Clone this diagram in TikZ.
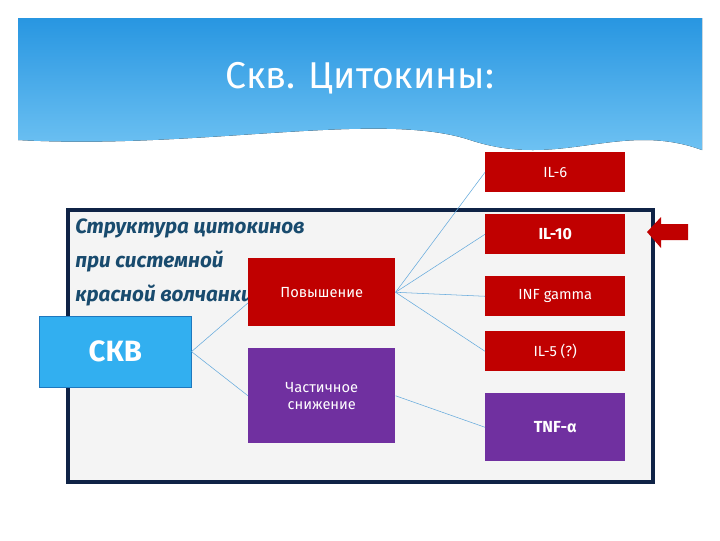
\documentclass[tikz,border=0pt]{standalone}
\usepackage{fontspec}
\setmainfont{Fira Sans}
\definecolor{cred}{RGB}{192,0,0}
\definecolor{cpurp}{RGB}{112,48,160}
\definecolor{cskv}{RGB}{50,175,240}
\definecolor{cskvb}{RGB}{30,120,190}
\definecolor{cline}{RGB}{100,170,220}
\definecolor{cframe}{RGB}{15,35,70}
\definecolor{cfill}{RGB}{244,244,244}
\definecolor{ctext}{RGB}{25,75,110}
\definecolor{htop}{RGB}{40,150,225}
\definecolor{hbot}{RGB}{120,200,245}
\begin{document}
\begin{tikzpicture}[x=0.75pt,y=-0.75pt,
  box/.style={draw=none,inner sep=0pt,text=white,font=\fontsize{11}{13}\selectfont,align=center},
  redbox/.style={box,fill=cred},
  purpbox/.style={box,fill=cpurp},
  conn/.style={draw=cline,line width=0.4pt}]
\useasboundingbox (0,0) rectangle (720,540);
\fill[white] (0,0) rectangle (720,540);
% header band
\fill[top color=htop,bottom color=hbot]
  (18,18) -- (702,18) -- (702,150) .. controls (620,120) and (560,170) .. (470,140)
  .. controls (380,110) and (200,150) .. (18,140) -- cycle;
\node[text=white,font=\fontsize{28}{32}\selectfont] (title) at (360,78) {Скв. Цитокины:};
% frame
\draw[fill=cfill,draw=cframe,line width=3pt] (68,210) rectangle (653,482);
\node[anchor=north west,align=left,text=ctext,font=\itshape\bfseries\fontsize{15.5}{25.5}\selectfont,inner sep=0pt] (txt) at (75,219) {Структура цитокинов\\при системной\\красной волчанки};
% boxes
\node[redbox,minimum width=110.25pt,minimum height=51pt,anchor=north west] (pov) at (248,258) {Повышение};
\node[purpbox,minimum width=110.25pt,minimum height=71.25pt,anchor=north west] (chs) at (248,348) {Частичное\\снижение};
\node[box,fill=cskv,draw=cskvb,minimum width=114pt,minimum height=53pt,anchor=north west,font=\bfseries\fontsize{22}{24}\selectfont] (skv) at (39,316) {СКВ};
\node[redbox,minimum width=105pt,minimum height=30pt,anchor=north west] (il6) at (485,152) {IL-6};
\node[redbox,minimum width=105pt,minimum height=30pt,anchor=north west,font=\bfseries\fontsize{12}{14}\selectfont] (il10) at (485,214) {IL-10};
\node[redbox,minimum width=105pt,minimum height=30pt,anchor=north west] (inf) at (485,276) {INF gamma};
\node[redbox,minimum width=105pt,minimum height=30pt,anchor=north west] (il5) at (485,331) {IL-5 (?)};
\node[purpbox,minimum width=105pt,minimum height=51pt,anchor=north west,font=\bfseries\fontsize{12}{14}\selectfont] (tnf) at (485,393) {TNF-α};
% connectors
\draw[conn] (skv.east) -- ([yshift=-8pt]pov.west);
\draw[conn] (skv.east) -- (chs.west);
\draw[conn] (pov.east) -- (il6.west);
\draw[conn] (pov.east) -- (il10.west);
\draw[conn] (pov.east) -- (inf.west);
\draw[conn] (pov.east) -- (il5.west);
\draw[conn] (chs.east) -- (tnf.west);
% arrow
\fill[cred] (647,232) -- (661,217) -- (661,224) -- (688,224) -- (688,240) -- (661,240) -- (661,248) -- cycle;
\end{tikzpicture}
\end{document}
